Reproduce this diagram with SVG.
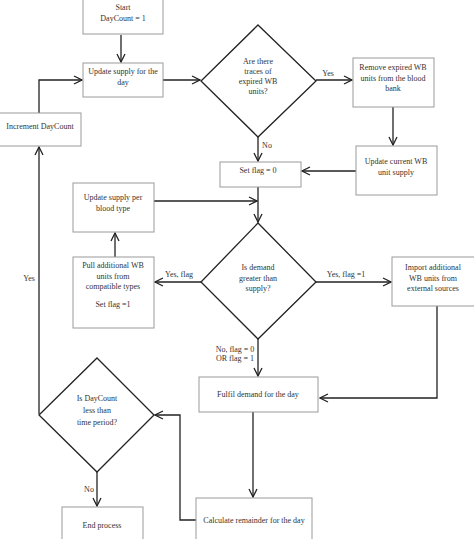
<svg xmlns="http://www.w3.org/2000/svg" width="474" height="539" viewBox="0 0 474 539">
<style>
.box{fill:#fff;stroke:#9a9a9a;stroke-width:1}
.dia{fill:#fff;stroke:#222;stroke-width:1.3}
.t{font-family:"Liberation Serif",serif;font-size:8px;fill:#333;text-anchor:middle}
.c{fill:none;stroke:#222;stroke-width:1.3}
</style>
<defs>
<marker id="a" markerUnits="userSpaceOnUse" markerWidth="10" markerHeight="10" refX="8" refY="4" orient="auto" viewBox="-1 -1 10 10">
<path d="M0,0 L8,4 L0,8" fill="none" stroke="#222" stroke-width="1.3"/>
</marker>
</defs>
<rect width="474" height="539" fill="#fff"/>
<g id="connectors">
<path class="c" d="M121,35 V62" marker-end="url(#a)"/>
<path class="c" d="M163,80 H200" marker-end="url(#a)"/>
<path class="c" d="M316,80 H352" marker-end="url(#a)"/>
<path class="c" d="M393,107 V145" marker-end="url(#a)"/>
<path class="c" d="M356,171 H302" marker-end="url(#a)"/>
<path class="c" d="M258,137 V161" marker-end="url(#a)"/>
<path class="c" d="M258,187 V222" marker-end="url(#a)"/>
<path class="c" d="M154,201 H257" marker-end="url(#a)"/>
<path class="c" d="M316,282 H391" marker-end="url(#a)"/>
<path class="c" d="M201,282 H155" marker-end="url(#a)"/>
<path class="c" d="M115,257 V233" marker-end="url(#a)"/>
<path class="c" d="M258,339 V376" marker-end="url(#a)"/>
<path class="c" d="M437,306 V398 H320" marker-end="url(#a)"/>
<path class="c" d="M253,412 V497" marker-end="url(#a)"/>
<path class="c" d="M196,520 H180 V415 H155" marker-end="url(#a)"/>
<path class="c" d="M97,472 V506" marker-end="url(#a)"/>
<path class="c" d="M39,414 V147" marker-end="url(#a)"/>
<path class="c" d="M39,113 V80 H82" marker-end="url(#a)"/>
<text class="t" x="328" y="76">Yes</text>
<text class="t" x="267" y="148">No</text>
<text class="t" x="346" y="277">Yes, flag =1</text>
<text class="t" x="179" y="277">Yes, flag</text>
<text class="t" x="235" y="352">No, flag = 0</text>
<text class="t" x="235" y="361">OR flag = 1</text>
<text class="t" x="89" y="492">No</text>
<text class="t" x="29" y="281">Yes</text>
</g>
<g id="start">
<rect class="box" x="83" y="-1" width="80" height="35"/>
<text class="t" x="123" y="10">Start</text>
<text class="t" x="123" y="21">DayCount = 1</text>
</g>
<g id="update-supply">
<rect class="box" x="83" y="63" width="80" height="34"/>
<text class="t" x="123" y="74">Update supply for the</text>
<text class="t" x="123" y="85">day</text>
</g>
<g id="expired-decision">
<polygon class="dia" points="258,25 316,81 258,137 201,81"/>
<text class="t" x="258" y="64">Are there</text>
<text class="t" x="258" y="74">traces of</text>
<text class="t" x="258" y="84">expired WB</text>
<text class="t" x="258" y="94">units?</text>
</g>
<g id="remove-expired">
<rect class="box" x="353" y="58" width="81" height="49"/>
<text class="t" x="393" y="70">Remove expired WB</text>
<text class="t" x="393" y="81">units from the blood</text>
<text class="t" x="393" y="91">bank</text>
</g>
<g id="update-current">
<rect class="box" x="356" y="146" width="81" height="49"/>
<text class="t" x="396" y="164">Update current WB</text>
<text class="t" x="396" y="175">unit supply</text>
</g>
<g id="set-flag">
<rect class="box" x="220" y="162" width="81" height="25"/>
<text class="t" x="258" y="173">Set flag = 0</text>
</g>
<g id="increment">
<rect class="box" x="-1" y="113" width="82" height="33"/>
<text class="t" x="40" y="129">Increment DayCount</text>
</g>
<g id="update-blood-type">
<rect class="box" x="73" y="183" width="81" height="49"/>
<text class="t" x="113" y="200">Update supply per</text>
<text class="t" x="113" y="211">blood type</text>
</g>
<g id="pull-additional">
<rect class="box" x="73" y="257" width="81" height="71"/>
<text class="t" x="113" y="268">Pull additional WB</text>
<text class="t" x="113" y="279">units from</text>
<text class="t" x="113" y="289">compatible types</text>
<text class="t" x="113" y="307">Set flag =1</text>
</g>
<g id="demand-decision">
<polygon class="dia" points="258,223 316,282 258,339 201,282"/>
<text class="t" x="258" y="270">Is demand</text>
<text class="t" x="258" y="281">greater than</text>
<text class="t" x="258" y="291">supply?</text>
</g>
<g id="import">
<rect class="box" x="392" y="257" width="83" height="49"/>
<text class="t" x="433" y="270">Import additional</text>
<text class="t" x="433" y="281">WB units from</text>
<text class="t" x="433" y="291">external sources</text>
</g>
<g id="fulfil">
<rect class="box" x="199" y="377" width="119" height="35"/>
<text class="t" x="258" y="397">Fulfil demand for the day</text>
</g>
<g id="daycount-decision">
<polygon class="dia" points="97,358 154,415 97,472 39,415"/>
<text class="t" x="97" y="401">Is DayCount</text>
<text class="t" x="97" y="413">less than</text>
<text class="t" x="97" y="425">time period?</text>
</g>
<g id="end">
<rect class="box" x="62" y="507" width="81" height="34"/>
<text class="t" x="102" y="528">End process</text>
</g>
<g id="calculate">
<rect class="box" x="196" y="498" width="116" height="43"/>
<text class="t" x="254" y="523">Calculate remainder for the day</text>
</g>
</svg>
